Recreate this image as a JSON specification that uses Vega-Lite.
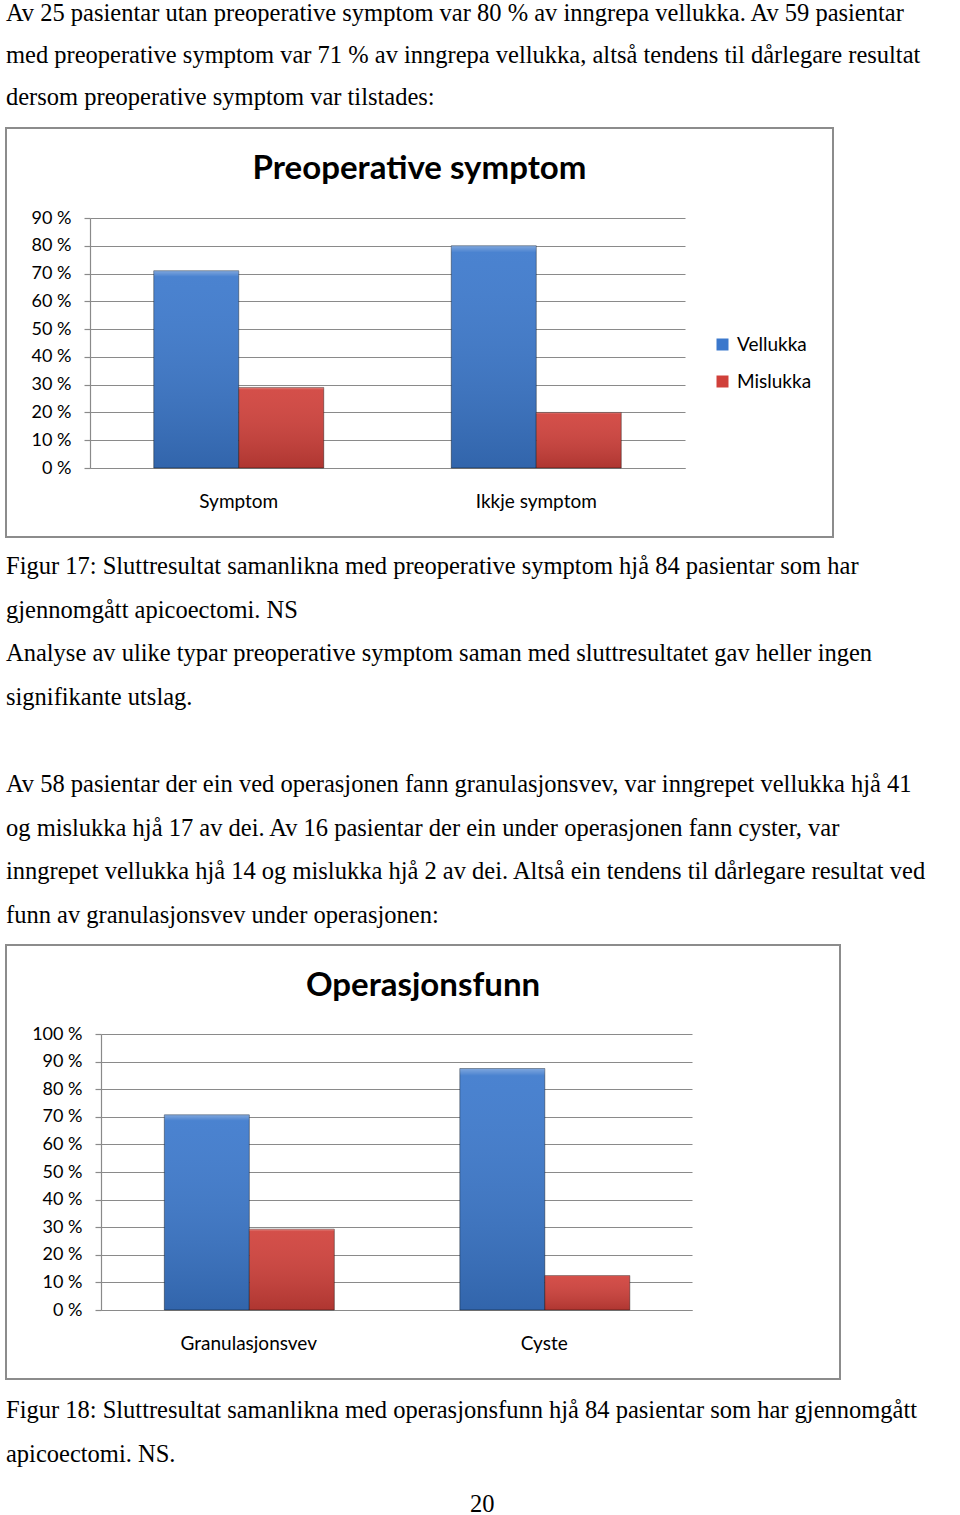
{
  "$schema": "https://vega.github.io/schema/vega-lite/v6.json",
  "background": "white",
  "padding": {"left": 5, "top": 0, "right": 5, "bottom": 0},
  "config": {
    "view": {"stroke": "#8c8c8c", "strokeWidth": 2},
    "font": "Lato",
    "title": {"color": "black"},
    "axis": {"labelColor": "black", "domainColor": "#8a8a8a", "tickColor": "#8a8a8a", "gridColor": "#8a8a8a", "gridOpacity": 1, "domainWidth": 1.2, "tickWidth": 1.2, "gridWidth": 1.2, "labelFont": "Lato", "title": null},
    "legend": {"labelColor": "black", "labelFont": "Lato"}
  },
  "datasets": {
    "preop": [
      {"gruppe": "Symptom", "utfall": "Vellukka", "prosent": 71},
      {"gruppe": "Symptom", "utfall": "Mislukka", "prosent": 29},
      {"gruppe": "Ikkje symptom", "utfall": "Vellukka", "prosent": 80},
      {"gruppe": "Ikkje symptom", "utfall": "Mislukka", "prosent": 20}
    ],
    "funn": [
      {"gruppe": "Granulasjonsvev", "utfall": "Vellukka", "prosent": 70.7},
      {"gruppe": "Granulasjonsvev", "utfall": "Mislukka", "prosent": 29.3},
      {"gruppe": "Cyste", "utfall": "Vellukka", "prosent": 87.5},
      {"gruppe": "Cyste", "utfall": "Mislukka", "prosent": 12.5}
    ]
  },
  "title": {
    "text": [
      "Av 25 pasientar utan preoperative symptom var 80 % av inngrepa vellukka. Av 59 pasientar",
      "med preoperative symptom var 71 % av inngrepa vellukka, altså tendens til dårlegare resultat",
      "dersom preoperative symptom var tilstades:"
    ],
    "anchor": "start", "frame": "group", "font": "Liberation Serif", "fontSize": 24.5, "fontWeight": "normal", "lineHeight": 42, "offset": 17
  },
  "spacing": 16,
  "vconcat": [
    {
      "width": 827,
      "height": 409,
      "data": {"name": "preop"},
      "title": {"text": "Preoperative symptom", "font": "Lato", "fontSize": 33, "fontWeight": "bold", "anchor": "middle", "offset": -58},
      "encoding": {
        "x": {"field": "gruppe", "type": "nominal", "sort": null,
          "scale": {"range": [84, 679], "paddingInner": 0.4286, "paddingOuter": 0.2143},
          "axis": {"orient": "bottom", "offset": -69, "ticks": false, "labelAngle": 0, "labelPadding": 24, "labelFontSize": 19, "grid": false}},
        "xOffset": {"field": "utfall", "type": "nominal", "sort": ["Vellukka", "Mislukka"]},
        "y": {"field": "prosent", "type": "quantitative",
          "scale": {"domain": [0, 90], "range": [340, 90], "nice": false},
          "axis": {"values": [0, 10, 20, 30, 40, 50, 60, 70, 80, 90], "labelExpr": "datum.value + ' %'", "offset": -84, "tickSize": 6, "labelPadding": 13, "labelFontSize": 18, "grid": true}}
      },
      "layer": [
        {
          "mark": {"type": "bar", "stroke": "rgba(0,0,0,0.4)", "strokeWidth": 1},
          "encoding": {
            "color": {"field": "utfall", "type": "nominal",
              "scale": {"domain": ["Vellukka", "Mislukka"], "range": ["#3b78cc", "#d0403a"]},
              "legend": {"orient": "none", "legendX": 707, "legendY": 207, "title": null, "symbolType": "square", "symbolSize": 144, "labelFontSize": 19, "rowPadding": 17, "labelOffset": 5, "symbolStrokeWidth": 0}}
          }
        },
        {
          "mark": {"type": "bar", "fill": {"gradient": "linear", "x1": 0, "y1": 0, "x2": 0, "y2": 1,
            "stops": [{"offset": 0, "color": "rgba(255,255,255,0.35)"}, {"offset": 0.03, "color": "rgba(255,255,255,0.08)"}, {"offset": 1, "color": "rgba(0,0,0,0.16)"}]}},
          "encoding": {}
        }
      ]
    },
    {
      "title": {"text": "20", "orient": "bottom", "anchor": "start", "frame": "group", "dx": 464, "font": "Liberation Serif", "fontSize": 24.5, "fontWeight": "normal", "offset": 27},
      "vconcat": [
        {
          "title": {"text": ["Figur 18: Sluttresultat samanlikna med operasjonsfunn hjå 84 pasientar som har gjennomgått", "apicoectomi. NS."],
            "orient": "bottom", "anchor": "start", "frame": "group", "font": "Liberation Serif", "fontSize": 24.5, "fontWeight": "normal", "lineHeight": 43.5, "offset": 19},
          "vconcat": [
            {
              "title": {"text": [
                "Figur 17: Sluttresultat samanlikna med preoperative symptom hjå 84 pasientar som har",
                "gjennomgått apicoectomi. NS",
                "Analyse av ulike typar preoperative symptom saman med sluttresultatet gav heller ingen",
                "signifikante utslag."
              ], "anchor": "start", "frame": "group", "font": "Liberation Serif", "fontSize": 24.5, "fontWeight": "normal", "lineHeight": 43.5, "offset": 62},
              "vconcat": [
                {
                  "title": {"text": [
                    "Av 58 pasientar der ein ved operasjonen fann granulasjonsvev, var inngrepet vellukka hjå 41",
                    "og mislukka hjå 17 av dei. Av 16 pasientar der ein under operasjonen fann cyster, var",
                    "inngrepet vellukka hjå 14 og mislukka hjå 2 av dei. Altså ein tendens til dårlegare resultat ved",
                    "funn av granulasjonsvev under operasjonen:"
                  ], "anchor": "start", "frame": "group", "font": "Liberation Serif", "fontSize": 24.5, "fontWeight": "normal", "lineHeight": 43.5, "offset": 16},
                  "vconcat": [
                    {
                      "width": 834,
                      "height": 434,
                      "data": {"name": "funn"},
                      "title": {"text": "Operasjonsfunn", "font": "Lato", "fontSize": 33, "fontWeight": "bold", "anchor": "middle", "offset": -58},
                      "encoding": {
                        "x": {"field": "gruppe", "type": "nominal", "sort": null,
                          "scale": {"range": [95, 686], "paddingInner": 0.4286, "paddingOuter": 0.2143},
                          "axis": {"orient": "bottom", "offset": -69, "ticks": false, "labelAngle": 0, "labelPadding": 24, "labelFontSize": 19, "grid": false}},
                        "xOffset": {"field": "utfall", "type": "nominal", "sort": ["Vellukka", "Mislukka"]},
                        "y": {"field": "prosent", "type": "quantitative",
                          "scale": {"domain": [0, 100], "range": [365, 89], "nice": false},
                          "axis": {"values": [0, 10, 20, 30, 40, 50, 60, 70, 80, 90, 100], "labelExpr": "datum.value + ' %'", "offset": -95, "tickSize": 6, "labelPadding": 13, "labelFontSize": 18, "grid": true}}
                      },
                      "layer": [
                        {
                          "mark": {"type": "bar", "stroke": "rgba(0,0,0,0.4)", "strokeWidth": 1},
                          "encoding": {
                            "color": {"field": "utfall", "type": "nominal",
                              "scale": {"domain": ["Vellukka", "Mislukka"], "range": ["#3b78cc", "#d0403a"]},
                              "legend": {"orient": "none", "legendX": 714, "legendY": 220, "title": null, "symbolType": "square", "symbolSize": 144, "labelFontSize": 19, "rowPadding": 17, "labelOffset": 5, "symbolStrokeWidth": 0}}
                          }
                        },
                        {
                          "mark": {"type": "bar", "fill": {"gradient": "linear", "x1": 0, "y1": 0, "x2": 0, "y2": 1,
                            "stops": [{"offset": 0, "color": "rgba(255,255,255,0.35)"}, {"offset": 0.03, "color": "rgba(255,255,255,0.08)"}, {"offset": 1, "color": "rgba(0,0,0,0.16)"}]}},
                          "encoding": {}
                        }
                      ]
                    }
                  ]
                }
              ]
            }
          ]
        }
      ]
    }
  ]
}
